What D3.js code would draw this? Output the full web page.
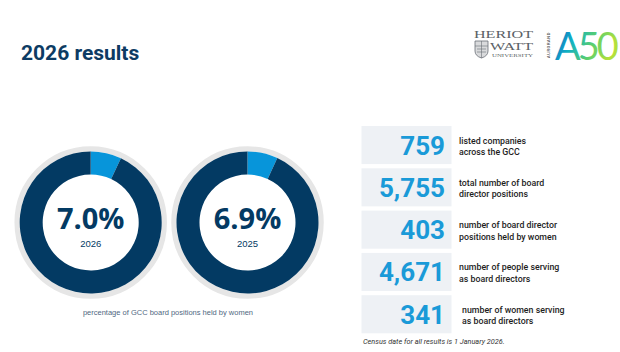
<!DOCTYPE html>
<html>
<head>
<meta charset="utf-8">
<script src="https://cdn.jsdelivr.net/npm/d3@7"></script>
<style>
  body { margin: 0; background: #fff; }
  svg { display: block; }
</style>
</head>
<body>
<svg id="chart"></svg>
<script>
// Chart data
const donutYears = ["2026", "2025"];
const donutValues = [7.0, 6.9];
const statValues = [759, 5755, 403, 4671, 341];
const statLabels = [
    ["listed companies", "across the GCC"],
    ["total number of board", "director positions"],
    ["number of board director", "positions held by women"],
    ["number of people serving", "as board directors"],
    ["number of women serving", "as board directors"]
];

const width = 620;
const height = 352;

const navy = "#033a63";
const blue = "#0795da";

const svg = d3.select("#chart")
    .attr("width", width)
    .attr("height", height);

// Title
svg.append("text")
    .attr("x", 21)
    .attr("y", 60)
    .text("2026 results")
    .style("font-family", "Roboto, sans-serif")
    .style("font-weight", "bold")
    .style("font-size", "21px")
    .attr("fill", "#0d3b63");

// Donuts
const xDonut = d3.scalePoint().domain(donutYears).range([90.7, 247.5]);
const cy = 222.5;

const pie = d3.pie().sort(null).value(d => d);
const arc = d3.arc().innerRadius(48).outerRadius(71);

donutYears.forEach((year, i) => {
    const g = svg.append("g")
        .attr("transform", `translate(${xDonut(year)},${cy})`);

    // grey outer ring
    g.append("circle")
        .attr("r", 73.5)
        .attr("fill", "none")
        .attr("stroke", "#e6e6e6")
        .attr("stroke-width", 5.5);

    g.selectAll("path")
        .data(pie([donutValues[i], 100 - donutValues[i]]))
        .enter().append("path")
        .attr("d", arc)
        .attr("fill", (d, j) => j === 0 ? blue : navy);

    g.append("text")
        .attr("y", 6.5)
        .attr("text-anchor", "middle")
        .text(d3.format(".1f")(donutValues[i]) + "%")
        .style("font-family", "'Open Sans', sans-serif")
        .style("font-weight", "bold")
        .style("font-size", "29px")
        .attr("fill", navy);

    g.append("text")
        .attr("y", 24)
        .attr("text-anchor", "middle")
        .text(year)
        .style("font-family", "'Liberation Sans', Arial, sans-serif")
        .style("font-size", "9.5px")
        .attr("fill", navy);
});

svg.append("text")
    .attr("x", 168)
    .attr("y", 315)
    .attr("text-anchor", "middle")
    .text("percentage of GCC board positions held by women")
    .style("font-family", "'Liberation Sans', Arial, sans-serif")
    .style("font-size", "7.5px")
    .attr("fill", "#50687f");

// Stat boxes
const yStat = d3.scaleBand()
    .domain(d3.range(statValues.length))
    .range([126, 333.3])
    .paddingInner(0.1)
    .paddingOuter(0);

const row = svg.selectAll(".stat")
    .data(statValues)
    .enter().append("g")
    .attr("class", "stat")
    .attr("transform", (d, i) => `translate(0,${yStat(i)})`);

row.append("rect")
    .attr("x", 361.5)
    .attr("width", 90)
    .attr("height", yStat.bandwidth())
    .attr("fill", "#eef1f5");

row.append("text")
    .attr("x", 445)
    .attr("y", yStat.bandwidth() / 2 + 9.5)
    .attr("text-anchor", "end")
    .text(d => d3.format(",")(d))
    .style("font-family", "Roboto, sans-serif")
    .style("font-weight", "bold")
    .style("font-size", "26px")
    .attr("fill", "#1a9ad8");

row.each(function(d, i) {
    const t = d3.select(this).append("text")
        .style("font-family", "Roboto, sans-serif")
        .style("font-weight", "500")
        .style("font-size", "8.8px")
        .attr("fill", "#1e1e1e");
    statLabels[i].forEach((line, k) => {
        t.append("tspan")
            .attr("x", i === 4 ? 462 : 459)
            .attr("y", yStat.bandwidth() / 2 - 1.5 + k * 11.5)
            .text(line);
    });
});

svg.append("text")
    .attr("x", 363)
    .attr("y", 344)
    .text("Census date for all results is 1 January 2026.")
    .style("font-family", "Roboto, sans-serif")
    .style("font-style", "italic")
    .style("font-size", "7.3px")
    .attr("fill", "#333");

// Logos (approximate)
const logo = svg.append("g");
const serif = "'Liberation Serif', 'DejaVu Serif', serif";
logo.append("text").attr("x", 474).attr("y", 37.5).text("HERIOT")
    .style("font-family", serif).style("font-size", "10.8px").attr("fill", "#5a5f66")
    .attr("textLength", 59).attr("lengthAdjust", "spacingAndGlyphs");
logo.append("text").attr("x", 490).attr("y", 49.8).text("WATT")
    .style("font-family", serif).style("font-size", "10.8px").attr("fill", "#5a5f66")
    .attr("textLength", 43).attr("lengthAdjust", "spacingAndGlyphs");
logo.append("text").attr("x", 492).attr("y", 56.8).text("UNIVERSITY")
    .style("font-family", serif).style("font-size", "4px").attr("fill", "#5a5f66")
    .attr("textLength", 41).attr("lengthAdjust", "spacingAndGlyphs");
// crest
logo.append("path")
    .attr("d", "M475,41 H488 V51 Q488,56 481.5,58 Q475,56 475,51 Z")
    .attr("fill", "#d9dadc")
    .attr("stroke", "#6a6f76")
    .attr("stroke-width", 0.8);
logo.append("path")
    .attr("d", "M475,46 H488 M481.5,41 V58 M477,49 H486 M477,52 H486")
    .attr("stroke", "#6a6f76")
    .attr("stroke-width", 0.6);

// vertical wordmark
logo.append("text")
    .attr("transform", "translate(550,58) rotate(-90)")
    .text("AURORAND")
    .style("font-family", "Roboto, sans-serif")
    .style("font-weight", "500")
    .style("font-size", "4px")
    .style("letter-spacing", "0.6px")
    .attr("fill", "#444");

const defs = svg.append("defs");
const grad = defs.append("linearGradient")
    .attr("id", "a50")
    .attr("x1", "0").attr("y1", "0").attr("x2", "1").attr("y2", "0.3");
grad.append("stop").attr("offset", "0%").attr("stop-color", "#1d4fc4");
grad.append("stop").attr("offset", "35%").attr("stop-color", "#0fb0c4");
grad.append("stop").attr("offset", "70%").attr("stop-color", "#5fd06a");
grad.append("stop").attr("offset", "100%").attr("stop-color", "#b2e03c");

logo.append("text")
    .attr("x", 555)
    .attr("y", 60)
    .text("A50")
    .style("font-family", "Lato, sans-serif")
    .style("font-weight", "400")
    .style("font-size", "38px")
    .style("letter-spacing", "-3px")
    .attr("fill", "url(#a50)");
</script>
</body>
</html>
